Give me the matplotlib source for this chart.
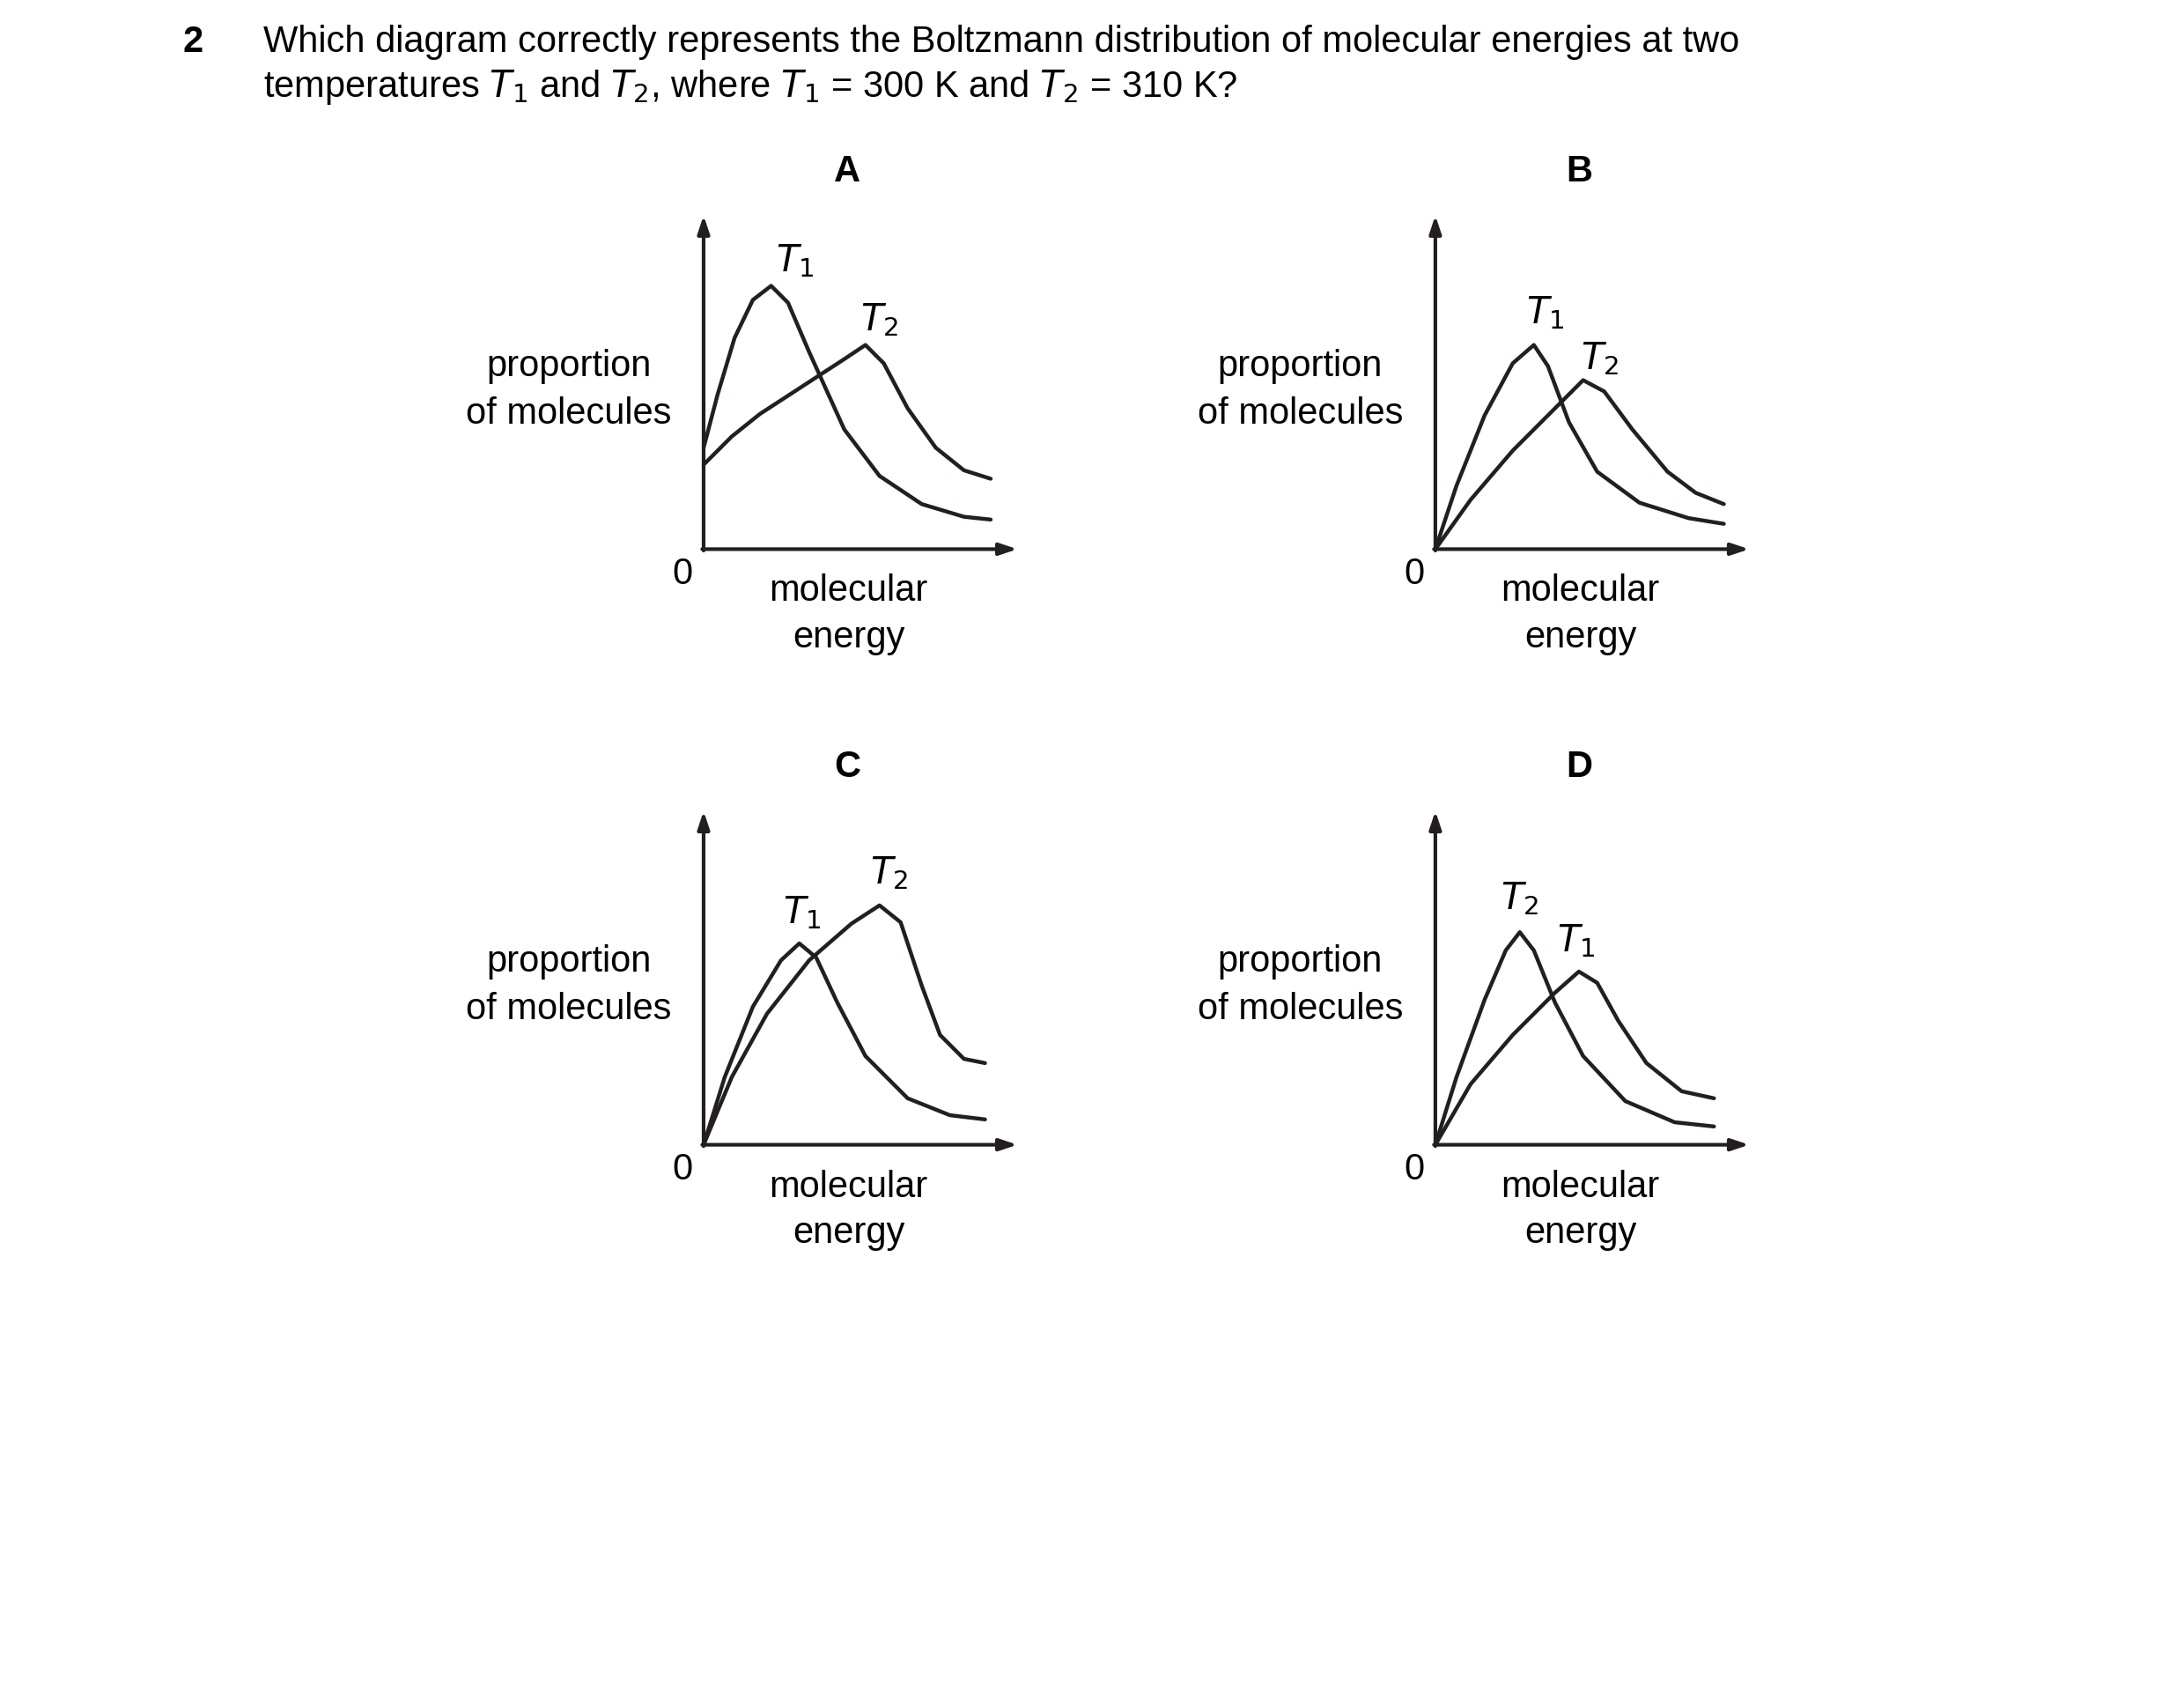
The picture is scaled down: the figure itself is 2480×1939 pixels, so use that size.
import matplotlib
matplotlib.use("Agg")
import matplotlib.pyplot as plt
plt.rcParams['font.family'] = ['Liberation Sans', 'DejaVu Sans']

panels = ["A", "B", "C", "D"]
origins = {"A": (500, 390), "B": (1020, 390), "C": (500, 813), "D": (1020, 813)}
curves = {
    "A": {
        "T1": ([500, 510, 522, 535, 548, 560, 575, 600, 625, 655, 685, 704],
               [318, 280, 240, 213, 203, 215, 250, 305, 338, 358, 367, 369]),
        "T2": ([500, 520, 540, 560, 580, 600, 615, 628, 645, 665, 685, 704],
               [330, 310, 294, 281, 268, 255, 245, 258, 290, 318, 334, 340]),
    },
    "B": {
        "T1": ([1020, 1035, 1055, 1075, 1090, 1100, 1115, 1135, 1165, 1200, 1225],
               [390, 345, 295, 258, 245, 260, 300, 335, 357, 368, 372]),
        "T2": ([1020, 1045, 1075, 1105, 1125, 1140, 1160, 1185, 1205, 1225],
               [390, 355, 320, 290, 270, 278, 305, 335, 350, 358]),
    },
    "C": {
        "T1": ([500, 515, 535, 555, 568, 580, 595, 615, 645, 675, 700],
               [813, 765, 715, 682, 670, 680, 712, 750, 780, 792, 795]),
        "T2": ([500, 520, 545, 575, 605, 625, 640, 655, 668, 685, 700],
               [813, 765, 720, 682, 656, 643, 655, 700, 735, 752, 755]),
    },
    "D": {
        "T2": ([1020, 1035, 1055, 1070, 1080, 1090, 1105, 1125, 1155, 1190, 1218],
               [813, 765, 710, 675, 662, 675, 712, 750, 782, 797, 800]),
        "T1": ([1020, 1045, 1075, 1105, 1122, 1135, 1150, 1170, 1195, 1218],
               [813, 770, 735, 705, 690, 698, 725, 755, 775, 780]),
    },
}
label_pos = {
    "A": {"T1": (565, 185), "T2": (625, 227)},
    "B": {"T1": (1098, 222), "T2": (1137, 255)},
    "C": {"T1": (570, 648), "T2": (632, 620)},
    "D": {"T2": (1080, 638), "T1": (1120, 668)},
}

fig = plt.figure(figsize=(24.8, 19.39), dpi=100)
ax = fig.add_axes([0, 0, 1, 1])
ax.set_xlim(0, 1552)
ax.set_ylim(1213, 0)
ax.axis("off")

fs = 30
ax.text(130, 30, "2", fontsize=fs, fontweight="bold", va="center")
ax.text(187, 30, "Which diagram correctly represents the Boltzmann distribution of molecular energies at two",
        fontsize=fs, va="center")
ax.text(187, 62, r"temperatures $\mathit{T}_1$ and $\mathit{T}_2$, where $\mathit{T}_1$ = 300 K and $\mathit{T}_2$ = 310 K?",
        fontsize=fs, va="center")

lc = "#231f20"
for p in panels:
    ox, oy = origins[p]
    ax.text(ox + 102, oy - 268, p, fontsize=fs, fontweight="bold", ha="center", va="center")
    ax.annotate("", xy=(ox, oy - 237), xytext=(ox, oy + 1),
                arrowprops=dict(arrowstyle="-|>,head_length=1.2,head_width=0.4", lw=3, color=lc, shrinkA=0, shrinkB=0))
    ax.annotate("", xy=(ox + 223, oy), xytext=(ox - 1, oy),
                arrowprops=dict(arrowstyle="-|>,head_length=1.2,head_width=0.4", lw=3, color=lc, shrinkA=0, shrinkB=0))
    ax.text(ox - 15, oy + 18, "0", fontsize=fs, ha="center", va="center")
    ax.text(ox + 103, oy + 30, "molecular", fontsize=fs, ha="center", va="center")
    ax.text(ox + 103, oy + 63, "energy", fontsize=fs, ha="center", va="center")
    ax.text(ox - 96, oy - 130, "proportion", fontsize=fs, ha="center", va="center")
    ax.text(ox - 96, oy - 96, "of molecules", fontsize=fs, ha="center", va="center")
    for name, (xs, ys) in curves[p].items():
        ax.plot(xs, ys, color=lc, lw=3.2, solid_joinstyle="round", solid_capstyle="round")
        lx, ly = label_pos[p][name]
        ax.text(lx, ly, r"$\mathit{T}_{" + name[1] + "}$", fontsize=fs, ha="center", va="center")

fig.savefig("out.png", dpi=100, facecolor="white")
